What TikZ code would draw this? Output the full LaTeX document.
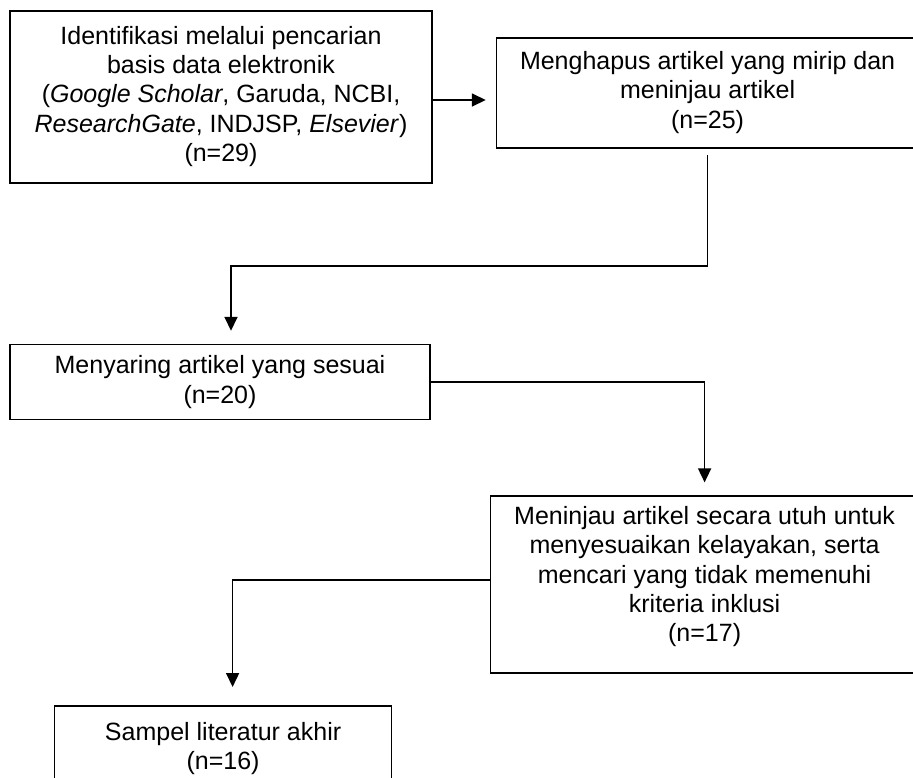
\documentclass[tikz,border=0pt]{standalone}
\usepackage{fontspec}
\setmainfont{Liberation Sans}
\usetikzlibrary{arrows.meta, positioning}
\tikzset{box/.style={draw, line width=1.6pt, align=center, inner sep=0pt, font={\fontsize{25}{29.2}\selectfont}}}

\begin{document}
\begin{tikzpicture}[x=1pt, y=-1pt, >={Triangle[length=14pt, width=13pt]}, line width=1.6pt]
\path[use as bounding box, clip] (0,0) rectangle (913,777);
\node[box, minimum width=422pt, minimum height=172pt] (s1) at (221,97) {Identifikasi melalui pencarian\\basis data elektronik\\(\textit{Google Scholar}, Garuda, NCBI,\\\textit{ResearchGate}, INDJSP, \textit{Elsevier})\\(n=29)\\[-23pt]\mbox{}};
\node[box, minimum width=422pt, minimum height=110pt, right=63pt of s1, yshift=4pt] (s2) {Menghapus artikel yang mirip dan\\meninjau artikel\\(n=25)\\[-23pt]\mbox{}};
\node[box, minimum width=420pt, minimum height=75pt, below=160pt of s1.south west, anchor=north west] (s3) {Menyaring artikel yang sesuai\\(n=20)};
\node[box, minimum width=428pt, minimum height=177pt, below right=75pt and 59pt of s3.south east] (s4) {Meninjau artikel secara utuh untuk\\menyesuaikan kelayakan, serta\\mencari yang tidak memenuhi\\kriteria inklusi\\(n=17)\\[-8pt]\mbox{}};
\node[box, minimum width=337pt, minimum height=86pt, below left=31pt and 436pt of s4.south west, anchor=north west] (s5) {Sampel literatur akhir\\(n=16)};
\draw [->, shorten >=10pt] (s1.east |- 0,100) -- (s2.west |- 0,100);
\draw [->, shorten <=6pt, shorten >=13pt] (s2.south) -- ++(0,117) -| ([xshift=11pt]s3.north);
\draw [->, shorten >=13pt] (s3.east) -| (s4.north);
\draw [->, shorten >=18pt] ([yshift=4.5pt]s4.west) -| ([xshift=9.5pt]s5.north);
\end{tikzpicture}
\end{document}
